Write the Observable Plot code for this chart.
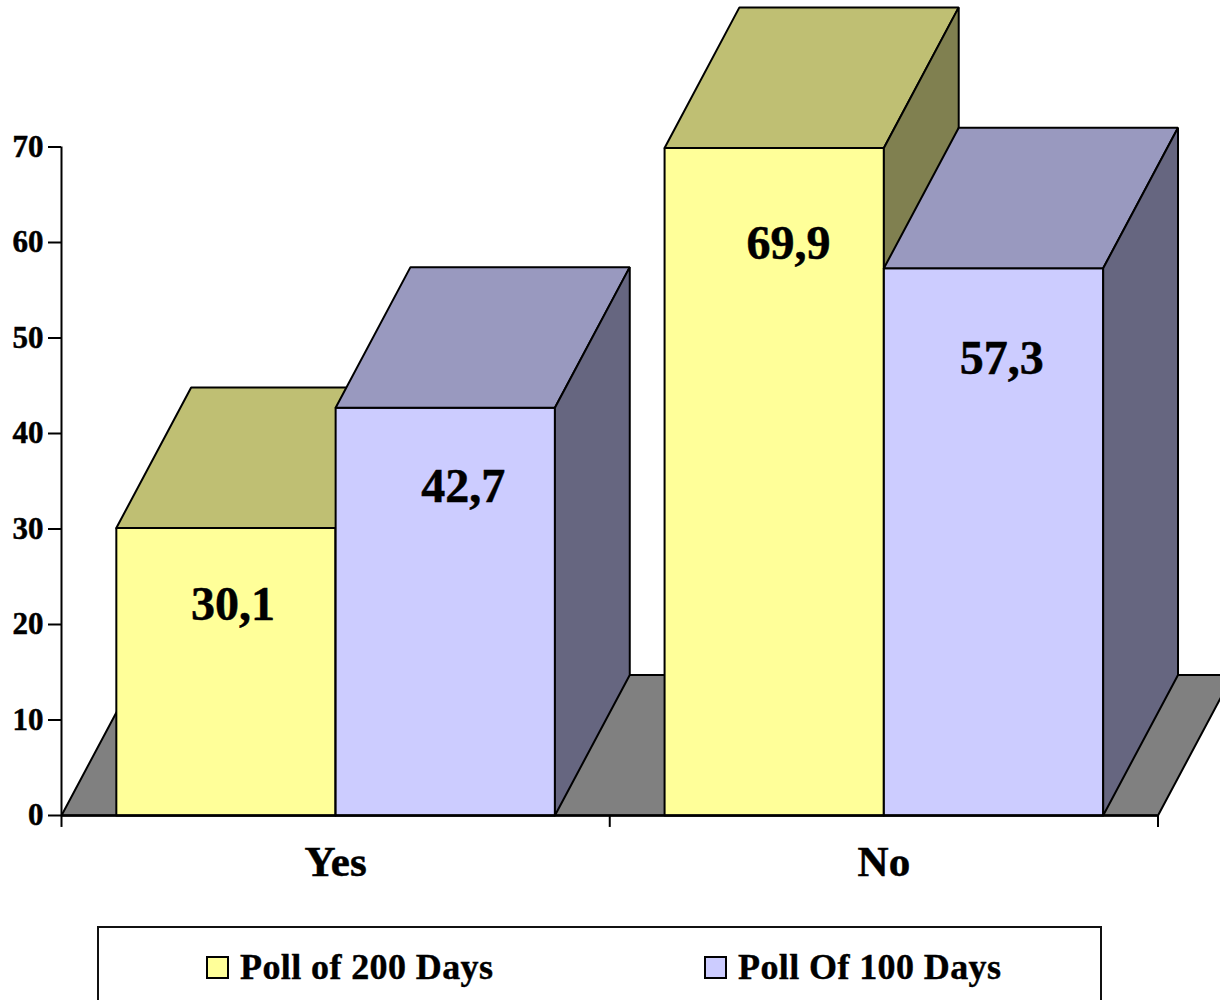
<!DOCTYPE html>
<html>
<head>
<meta charset="utf-8">
<script src="https://cdn.jsdelivr.net/npm/d3@7"></script>
<script src="https://cdn.jsdelivr.net/npm/@observablehq/plot@0.6"></script>
<style>
html,body{margin:0;padding:0;background:#fff;overflow:hidden;}
#chart{position:relative;width:1220px;height:1000px;font-family:"Liberation Serif",serif;}
#chart svg{display:block;}
#chart svg text{stroke:#000;stroke-width:0.5px;}
#legend{position:absolute;left:97px;top:926px;width:1005px;height:90px;border:2px solid #111;box-sizing:border-box;font:bold 36px "Liberation Serif",serif;color:#000;letter-spacing:0.4px;-webkit-text-stroke:0.4px #000;}
.item{position:absolute;top:0;display:flex;align-items:center;height:78px;white-space:nowrap;}
.swatch{width:19px;height:19px;border:2px solid #000;margin-right:11px;flex:none;}
</style>
</head>
<body>
<div id="chart"></div>
<script>
const categories = ["Yes", "No"];
const seriesNames = ["Poll of 200 Days", "Poll Of 100 Days"];
const poll200 = [30.1, 69.9];
const poll100 = [42.7, 57.3];
const valueLabels200 = ["30,1", "69,9"];
const valueLabels100 = ["42,7", "57,3"];
const yTicks = [0, 10, 20, 30, 40, 50, 60, 70];

const front = ["#FFFF99", "#CCCCFF"];
const topFace = ["#BFBF73", "#9999BF"];
const sideFace = ["#808050", "#666680"];
const floorColor = "#808080";

// depth of the fake 3D extrusion and bar layout, in data units
const depthX = 0.1365, depthY = 14.72;
const gap = 0.1, barW = 0.4;
// label placement relative to the bar's centre and top, in data units
const labelShiftX = [[0.013, 0.033], [0.026, 0.015]];
const labelDropY = [[8.0, 8.3], [10.0, 9.5]];

const polys = [];
let pid = 0;
function poly(fill, pts) {
  const id = pid++;
  for (const [x, y] of [...pts, pts[0]]) polys.push({id, x, y, fill});
}
// floor
poly(floorColor, [[0, 0], [2, 0], [2 + depthX, depthY], [depthX, depthY]]);

const labels = [];
categories.forEach((c, ci) => {
  [poll200, poll100].forEach((vals, si) => {
    const v = vals[ci];
    const x0 = ci + gap + si * barW, x1 = x0 + barW;
    poly(front[si], [[x0, 0], [x1, 0], [x1, v], [x0, v]]);
    poly(topFace[si], [[x0, v], [x1, v], [x1 + depthX, v + depthY], [x0 + depthX, v + depthY]]);
    poly(sideFace[si], [[x1, 0], [x1 + depthX, depthY], [x1 + depthX, v + depthY], [x1, v]]);
    labels.push({
      x: (x0 + x1) / 2 + labelShiftX[ci][si],
      y: v - labelDropY[ci][si],
      text: (si === 0 ? valueLabels200 : valueLabels100)[ci]
    });
  });
});

const FONT = "Liberation Serif";
const plot = Plot.plot({
  width: 1220,
  height: 925,
  marginLeft: 61,
  marginRight: 63,
  marginTop: 147,
  marginBottom: 110,
  x: {domain: [0, 2], range: [61, 1157.5]},
  y: {domain: [0, 70], range: [815, 146.5]},
  style: {background: "#fff", fontFamily: FONT, overflow: "hidden"},
  marks: [
    Plot.line(polys, {x: "x", y: "y", z: "id", fill: "fill", stroke: "#000", strokeWidth: 2, curve: "linear", strokeLinejoin: "miter"}),
    Plot.ruleY([0], {x1: 0, x2: 2, stroke: "#000", strokeWidth: 2.5}),
    Plot.ruleX([0], {y1: 0, y2: 70, stroke: "#000", strokeWidth: 2}),
    Plot.ruleX([0, 1, 2], {y1: 0, y2: -1.25, stroke: "#000", strokeWidth: 2}),
    Plot.axisY({ticks: yTicks, tickSize: 13, tickPadding: 5, fontSize: 31, fontWeight: "bold", fill: "#000", stroke: "#000", strokeWidth: 2, strokeOpacity: 1, label: null, anchor: "left"}),
    Plot.axisX({ticks: [0.5, 1.5], tickFormat: d => categories[Math.floor(d)], tickSize: 0, tickPadding: 30, fontSize: 43, fontWeight: "bold", fill: "#000", label: null, anchor: "bottom"}),
    Plot.text(labels, {x: "x", y: "y", text: "text", fontSize: 48, fontWeight: "bold", fill: "#000", textAnchor: "middle", lineAnchor: "middle"})
  ]
});
const chart = document.getElementById("chart");
chart.appendChild(plot);

const legend = document.createElement("div");
legend.id = "legend";
const itemLefts = [107, 605];
seriesNames.forEach((name, i) => {
  const item = document.createElement("div");
  item.className = "item";
  item.style.left = itemLefts[i] + "px";
  const sw = document.createElement("span");
  sw.className = "swatch";
  sw.style.background = front[i];
  const t = document.createElement("span");
  t.textContent = name;
  item.append(sw, t);
  legend.appendChild(item);
});
chart.appendChild(legend);
</script>
</body>
</html>
